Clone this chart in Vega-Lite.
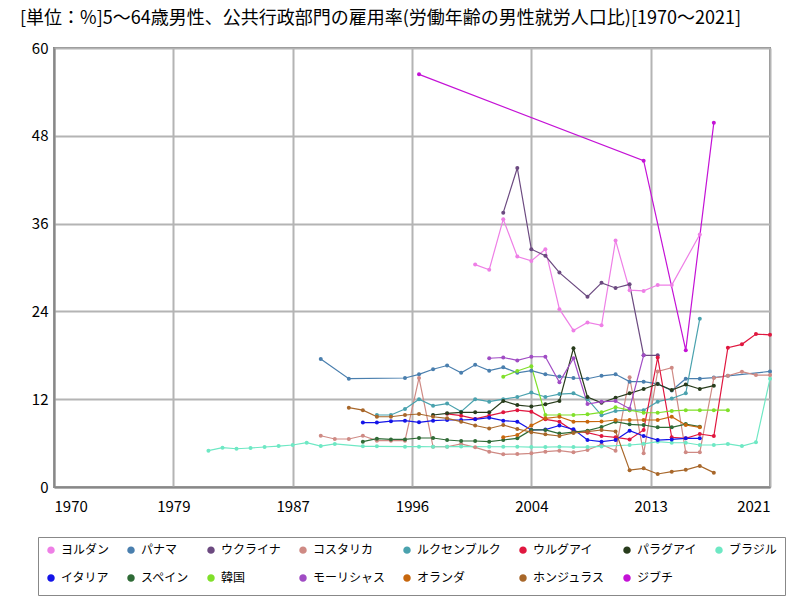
{
  "$schema": "https://vega.github.io/schema/vega-lite/v6.json",
  "width": 716,
  "height": 439,
  "autosize": {"type": "none"},
  "padding": {"left": 54, "top": 48, "right": 30, "bottom": 113},
  "title": {
    "text": "[単位：%]5～64歳男性、公共行政部門の雇用率(労働年齢の男性就労人口比)[1970～2021]",
    "anchor": "start",
    "frame": "group",
    "dx": -34,
    "offset": 13,
    "fontSize": 18,
    "fontWeight": "normal",
    "font": "Noto Sans CJK JP",
    "color": "#000000"
  },
  "data": {
    "values": [
      {"c": "ヨルダン", "y": 2000, "v": 30.4}, {"c": "ヨルダン", "y": 2001, "v": 29.7}, {"c": "ヨルダン", "y": 2002, "v": 36.6},
      {"c": "ヨルダン", "y": 2003, "v": 31.5}, {"c": "ヨルダン", "y": 2004, "v": 30.9}, {"c": "ヨルダン", "y": 2005, "v": 32.5},
      {"c": "ヨルダン", "y": 2006, "v": 24.3}, {"c": "ヨルダン", "y": 2007, "v": 21.4}, {"c": "ヨルダン", "y": 2008, "v": 22.5},
      {"c": "ヨルダン", "y": 2009, "v": 22.1}, {"c": "ヨルダン", "y": 2010, "v": 33.7}, {"c": "ヨルダン", "y": 2011, "v": 26.9},
      {"c": "ヨルダン", "y": 2012, "v": 26.8}, {"c": "ヨルダン", "y": 2013, "v": 27.6}, {"c": "ヨルダン", "y": 2014, "v": 27.6},
      {"c": "ヨルダン", "y": 2016, "v": 34.5},

      {"c": "パナマ", "y": 1989, "v": 17.5}, {"c": "パナマ", "y": 1991, "v": 14.8}, {"c": "パナマ", "y": 1995, "v": 14.9},
      {"c": "パナマ", "y": 1996, "v": 15.4}, {"c": "パナマ", "y": 1997, "v": 16.1}, {"c": "パナマ", "y": 1998, "v": 16.6},
      {"c": "パナマ", "y": 1999, "v": 15.6}, {"c": "パナマ", "y": 2000, "v": 16.7}, {"c": "パナマ", "y": 2001, "v": 15.9},
      {"c": "パナマ", "y": 2002, "v": 16.35}, {"c": "パナマ", "y": 2003, "v": 15.6}, {"c": "パナマ", "y": 2004, "v": 15.9},
      {"c": "パナマ", "y": 2005, "v": 15.4}, {"c": "パナマ", "y": 2006, "v": 15.1}, {"c": "パナマ", "y": 2007, "v": 14.9},
      {"c": "パナマ", "y": 2008, "v": 14.8}, {"c": "パナマ", "y": 2009, "v": 15.2}, {"c": "パナマ", "y": 2010, "v": 15.4},
      {"c": "パナマ", "y": 2011, "v": 14.4}, {"c": "パナマ", "y": 2012, "v": 14.4}, {"c": "パナマ", "y": 2013, "v": 14.1},
      {"c": "パナマ", "y": 2014, "v": 13.2}, {"c": "パナマ", "y": 2015, "v": 14.8}, {"c": "パナマ", "y": 2016, "v": 14.8},
      {"c": "パナマ", "y": 2017, "v": 14.95}, {"c": "パナマ", "y": 2018, "v": 15.2}, {"c": "パナマ", "y": 2021, "v": 15.8},

      {"c": "ウクライナ", "y": 2002, "v": 37.5}, {"c": "ウクライナ", "y": 2003, "v": 43.6}, {"c": "ウクライナ", "y": 2004, "v": 32.5},
      {"c": "ウクライナ", "y": 2005, "v": 31.6}, {"c": "ウクライナ", "y": 2006, "v": 29.3}, {"c": "ウクライナ", "y": 2008, "v": 26.0},
      {"c": "ウクライナ", "y": 2009, "v": 27.9}, {"c": "ウクライナ", "y": 2010, "v": 27.2}, {"c": "ウクライナ", "y": 2011, "v": 27.7},
      {"c": "ウクライナ", "y": 2012, "v": 18.0}, {"c": "ウクライナ", "y": 2013, "v": 18.0},

      {"c": "コスタリカ", "y": 1989, "v": 7.0}, {"c": "コスタリカ", "y": 1990, "v": 6.56}, {"c": "コスタリカ", "y": 1991, "v": 6.56},
      {"c": "コスタリカ", "y": 1992, "v": 7.0}, {"c": "コスタリカ", "y": 1993, "v": 6.33}, {"c": "コスタリカ", "y": 1994, "v": 6.33},
      {"c": "コスタリカ", "y": 1995, "v": 6.33}, {"c": "コスタリカ", "y": 1996, "v": 14.9}, {"c": "コスタリカ", "y": 1997, "v": 5.5},
      {"c": "コスタリカ", "y": 1998, "v": 5.5}, {"c": "コスタリカ", "y": 1999, "v": 5.88}, {"c": "コスタリカ", "y": 2000, "v": 5.42},
      {"c": "コスタリカ", "y": 2001, "v": 4.83}, {"c": "コスタリカ", "y": 2002, "v": 4.47}, {"c": "コスタリカ", "y": 2003, "v": 4.5},
      {"c": "コスタリカ", "y": 2004, "v": 4.6}, {"c": "コスタリカ", "y": 2005, "v": 4.83}, {"c": "コスタリカ", "y": 2006, "v": 4.96},
      {"c": "コスタリカ", "y": 2007, "v": 4.74}, {"c": "コスタリカ", "y": 2008, "v": 5.06}, {"c": "コスタリカ", "y": 2009, "v": 5.83},
      {"c": "コスタリカ", "y": 2010, "v": 4.96}, {"c": "コスタリカ", "y": 2011, "v": 15.0}, {"c": "コスタリカ", "y": 2012, "v": 4.6},
      {"c": "コスタリカ", "y": 2013, "v": 15.8}, {"c": "コスタリカ", "y": 2014, "v": 16.3}, {"c": "コスタリカ", "y": 2015, "v": 4.74},
      {"c": "コスタリカ", "y": 2016, "v": 4.74}, {"c": "コスタリカ", "y": 2017, "v": 14.9}, {"c": "コスタリカ", "y": 2018, "v": 15.2},
      {"c": "コスタリカ", "y": 2019, "v": 15.76}, {"c": "コスタリカ", "y": 2020, "v": 15.3}, {"c": "コスタリカ", "y": 2021, "v": 15.3},

      {"c": "ルクセンブルク", "y": 1993, "v": 9.84}, {"c": "ルクセンブルク", "y": 1994, "v": 9.84}, {"c": "ルクセンブルク", "y": 1995, "v": 10.66},
      {"c": "ルクセンブルク", "y": 1996, "v": 12.0}, {"c": "ルクセンブルク", "y": 1997, "v": 11.1}, {"c": "ルクセンブルク", "y": 1998, "v": 11.4},
      {"c": "ルクセンブルク", "y": 1999, "v": 10.3}, {"c": "ルクセンブルク", "y": 2000, "v": 12.0}, {"c": "ルクセンブルク", "y": 2001, "v": 11.66},
      {"c": "ルクセンブルク", "y": 2002, "v": 12.0}, {"c": "ルクセンブルク", "y": 2003, "v": 12.3}, {"c": "ルクセンブルク", "y": 2004, "v": 12.9},
      {"c": "ルクセンブルク", "y": 2005, "v": 12.3}, {"c": "ルクセンブルク", "y": 2006, "v": 12.7}, {"c": "ルクセンブルク", "y": 2007, "v": 12.8},
      {"c": "ルクセンブルク", "y": 2008, "v": 12.0}, {"c": "ルクセンブルク", "y": 2009, "v": 9.8}, {"c": "ルクセンブルク", "y": 2010, "v": 10.4},
      {"c": "ルクセンブルク", "y": 2011, "v": 10.5}, {"c": "ルクセンブルク", "y": 2012, "v": 10.5}, {"c": "ルクセンブルク", "y": 2013, "v": 11.66},
      {"c": "ルクセンブルク", "y": 2014, "v": 12.1}, {"c": "ルクセンブルク", "y": 2015, "v": 12.8}, {"c": "ルクセンブルク", "y": 2016, "v": 23.0},

      {"c": "ウルグアイ", "y": 1998, "v": 10.0}, {"c": "ウルグアイ", "y": 1999, "v": 9.75}, {"c": "ウルグアイ", "y": 2000, "v": 9.3},
      {"c": "ウルグアイ", "y": 2001, "v": 9.75}, {"c": "ウルグアイ", "y": 2002, "v": 10.2}, {"c": "ウルグアイ", "y": 2003, "v": 10.5},
      {"c": "ウルグアイ", "y": 2004, "v": 10.3}, {"c": "ウルグアイ", "y": 2005, "v": 9.25}, {"c": "ウルグアイ", "y": 2006, "v": 8.93},
      {"c": "ウルグアイ", "y": 2007, "v": 7.65}, {"c": "ウルグアイ", "y": 2008, "v": 7.42}, {"c": "ウルグアイ", "y": 2009, "v": 6.97},
      {"c": "ウルグアイ", "y": 2010, "v": 6.79}, {"c": "ウルグアイ", "y": 2011, "v": 6.5}, {"c": "ウルグアイ", "y": 2012, "v": 7.8},
      {"c": "ウルグアイ", "y": 2013, "v": 17.7}, {"c": "ウルグアイ", "y": 2014, "v": 6.8}, {"c": "ウルグアイ", "y": 2015, "v": 6.65},
      {"c": "ウルグアイ", "y": 2016, "v": 7.24}, {"c": "ウルグアイ", "y": 2017, "v": 6.97}, {"c": "ウルグアイ", "y": 2018, "v": 19.04},
      {"c": "ウルグアイ", "y": 2019, "v": 19.5}, {"c": "ウルグアイ", "y": 2020, "v": 20.9}, {"c": "ウルグアイ", "y": 2021, "v": 20.8},

      {"c": "パラグアイ", "y": 1997, "v": 9.84}, {"c": "パラグアイ", "y": 1998, "v": 10.07}, {"c": "パラグアイ", "y": 1999, "v": 10.2},
      {"c": "パラグアイ", "y": 2000, "v": 10.2}, {"c": "パラグアイ", "y": 2001, "v": 10.2}, {"c": "パラグアイ", "y": 2002, "v": 11.75},
      {"c": "パラグアイ", "y": 2003, "v": 11.2}, {"c": "パラグアイ", "y": 2004, "v": 11.0}, {"c": "パラグアイ", "y": 2005, "v": 11.3},
      {"c": "パラグアイ", "y": 2006, "v": 11.75}, {"c": "パラグアイ", "y": 2007, "v": 18.95}, {"c": "パラグアイ", "y": 2008, "v": 12.3},
      {"c": "パラグアイ", "y": 2009, "v": 11.5}, {"c": "パラグアイ", "y": 2010, "v": 12.2}, {"c": "パラグアイ", "y": 2011, "v": 12.8},
      {"c": "パラグアイ", "y": 2012, "v": 13.4}, {"c": "パラグアイ", "y": 2013, "v": 14.07}, {"c": "パラグアイ", "y": 2014, "v": 13.26},
      {"c": "パラグアイ", "y": 2015, "v": 14.0}, {"c": "パラグアイ", "y": 2016, "v": 13.4}, {"c": "パラグアイ", "y": 2017, "v": 13.85},

      {"c": "ブラジル", "y": 1981, "v": 4.96}, {"c": "ブラジル", "y": 1982, "v": 5.37}, {"c": "ブラジル", "y": 1983, "v": 5.23},
      {"c": "ブラジル", "y": 1984, "v": 5.33}, {"c": "ブラジル", "y": 1985, "v": 5.47}, {"c": "ブラジル", "y": 1986, "v": 5.6},
      {"c": "ブラジル", "y": 1987, "v": 5.74}, {"c": "ブラジル", "y": 1988, "v": 6.05}, {"c": "ブラジル", "y": 1989, "v": 5.6},
      {"c": "ブラジル", "y": 1990, "v": 5.88}, {"c": "ブラジル", "y": 1992, "v": 5.56}, {"c": "ブラジル", "y": 1993, "v": 5.56},
      {"c": "ブラジル", "y": 1995, "v": 5.51}, {"c": "ブラジル", "y": 1996, "v": 5.51}, {"c": "ブラジル", "y": 1997, "v": 5.5},
      {"c": "ブラジル", "y": 1998, "v": 5.5}, {"c": "ブラジル", "y": 1999, "v": 5.55}, {"c": "ブラジル", "y": 2001, "v": 5.5},
      {"c": "ブラジル", "y": 2002, "v": 5.5}, {"c": "ブラジル", "y": 2003, "v": 5.5}, {"c": "ブラジル", "y": 2004, "v": 5.45},
      {"c": "ブラジル", "y": 2005, "v": 5.45}, {"c": "ブラジル", "y": 2006, "v": 5.5}, {"c": "ブラジル", "y": 2007, "v": 5.45},
      {"c": "ブラジル", "y": 2008, "v": 5.45}, {"c": "ブラジル", "y": 2009, "v": 5.55}, {"c": "ブラジル", "y": 2011, "v": 5.74},
      {"c": "ブラジル", "y": 2012, "v": 5.9}, {"c": "ブラジル", "y": 2013, "v": 6.2}, {"c": "ブラジル", "y": 2014, "v": 6.05},
      {"c": "ブラジル", "y": 2015, "v": 6.05}, {"c": "ブラジル", "y": 2016, "v": 5.74}, {"c": "ブラジル", "y": 2017, "v": 5.74},
      {"c": "ブラジル", "y": 2018, "v": 5.88}, {"c": "ブラジル", "y": 2019, "v": 5.6}, {"c": "ブラジル", "y": 2020, "v": 6.1},
      {"c": "ブラジル", "y": 2021, "v": 14.8},

      {"c": "イタリア", "y": 1992, "v": 8.8}, {"c": "イタリア", "y": 1993, "v": 8.8}, {"c": "イタリア", "y": 1994, "v": 9.0},
      {"c": "イタリア", "y": 1995, "v": 9.07}, {"c": "イタリア", "y": 1996, "v": 8.84}, {"c": "イタリア", "y": 1997, "v": 9.07},
      {"c": "イタリア", "y": 1998, "v": 9.16}, {"c": "イタリア", "y": 1999, "v": 9.16}, {"c": "イタリア", "y": 2000, "v": 9.25},
      {"c": "イタリア", "y": 2001, "v": 9.47}, {"c": "イタリア", "y": 2002, "v": 9.07}, {"c": "イタリア", "y": 2003, "v": 8.93},
      {"c": "イタリア", "y": 2004, "v": 7.79}, {"c": "イタリア", "y": 2005, "v": 7.85}, {"c": "イタリア", "y": 2006, "v": 8.4},
      {"c": "イタリア", "y": 2007, "v": 7.88}, {"c": "イタリア", "y": 2008, "v": 6.42}, {"c": "イタリア", "y": 2009, "v": 6.2},
      {"c": "イタリア", "y": 2010, "v": 6.42}, {"c": "イタリア", "y": 2011, "v": 7.7}, {"c": "イタリア", "y": 2012, "v": 6.97},
      {"c": "イタリア", "y": 2013, "v": 6.42}, {"c": "イタリア", "y": 2014, "v": 6.5}, {"c": "イタリア", "y": 2015, "v": 6.65},
      {"c": "イタリア", "y": 2016, "v": 6.65},

      {"c": "スペイン", "y": 1992, "v": 6.2}, {"c": "スペイン", "y": 1993, "v": 6.6}, {"c": "スペイン", "y": 1994, "v": 6.5},
      {"c": "スペイン", "y": 1995, "v": 6.5}, {"c": "スペイン", "y": 1996, "v": 6.7}, {"c": "スペイン", "y": 1997, "v": 6.7},
      {"c": "スペイン", "y": 1998, "v": 6.42}, {"c": "スペイン", "y": 1999, "v": 6.29}, {"c": "スペイン", "y": 2000, "v": 6.29},
      {"c": "スペイン", "y": 2001, "v": 6.2}, {"c": "スペイン", "y": 2002, "v": 6.42}, {"c": "スペイン", "y": 2003, "v": 6.65},
      {"c": "スペイン", "y": 2004, "v": 7.8}, {"c": "スペイン", "y": 2005, "v": 7.8}, {"c": "スペイン", "y": 2006, "v": 7.3},
      {"c": "スペイン", "y": 2007, "v": 7.5}, {"c": "スペイン", "y": 2008, "v": 7.7}, {"c": "スペイン", "y": 2009, "v": 8.2},
      {"c": "スペイン", "y": 2010, "v": 8.93}, {"c": "スペイン", "y": 2011, "v": 8.57}, {"c": "スペイン", "y": 2012, "v": 8.47},
      {"c": "スペイン", "y": 2013, "v": 8.16}, {"c": "スペイン", "y": 2014, "v": 8.16}, {"c": "スペイン", "y": 2015, "v": 8.6},
      {"c": "スペイン", "y": 2016, "v": 8.24},

      {"c": "韓国", "y": 2002, "v": 15.08}, {"c": "韓国", "y": 2003, "v": 15.85}, {"c": "韓国", "y": 2004, "v": 16.5},
      {"c": "韓国", "y": 2005, "v": 9.84}, {"c": "韓国", "y": 2006, "v": 9.84}, {"c": "韓国", "y": 2007, "v": 9.84},
      {"c": "韓国", "y": 2008, "v": 9.93}, {"c": "韓国", "y": 2009, "v": 10.2}, {"c": "韓国", "y": 2010, "v": 10.9},
      {"c": "韓国", "y": 2011, "v": 10.5}, {"c": "韓国", "y": 2012, "v": 10.15}, {"c": "韓国", "y": 2013, "v": 10.15},
      {"c": "韓国", "y": 2014, "v": 10.4}, {"c": "韓国", "y": 2015, "v": 10.5}, {"c": "韓国", "y": 2016, "v": 10.5},
      {"c": "韓国", "y": 2017, "v": 10.5}, {"c": "韓国", "y": 2018, "v": 10.5},

      {"c": "モーリシャス", "y": 2001, "v": 17.6}, {"c": "モーリシャス", "y": 2002, "v": 17.7}, {"c": "モーリシャス", "y": 2003, "v": 17.3},
      {"c": "モーリシャス", "y": 2004, "v": 17.8}, {"c": "モーリシャス", "y": 2005, "v": 17.8}, {"c": "モーリシャス", "y": 2006, "v": 14.3},
      {"c": "モーリシャス", "y": 2007, "v": 17.6}, {"c": "モーリシャス", "y": 2008, "v": 11.34}, {"c": "モーリシャス", "y": 2009, "v": 11.66},
      {"c": "モーリシャス", "y": 2010, "v": 11.75}, {"c": "モーリシャス", "y": 2011, "v": 10.7}, {"c": "モーリシャス", "y": 2012, "v": 18.0},

      {"c": "オランダ", "y": 2002, "v": 6.8}, {"c": "オランダ", "y": 2003, "v": 7.1}, {"c": "オランダ", "y": 2004, "v": 8.4},
      {"c": "オランダ", "y": 2005, "v": 9.38}, {"c": "オランダ", "y": 2006, "v": 9.6}, {"c": "オランダ", "y": 2007, "v": 8.93},
      {"c": "オランダ", "y": 2008, "v": 8.93}, {"c": "オランダ", "y": 2009, "v": 8.95}, {"c": "オランダ", "y": 2010, "v": 9.16},
      {"c": "オランダ", "y": 2011, "v": 9.16}, {"c": "オランダ", "y": 2012, "v": 9.16}, {"c": "オランダ", "y": 2013, "v": 9.16},
      {"c": "オランダ", "y": 2014, "v": 9.6}, {"c": "オランダ", "y": 2015, "v": 8.47}, {"c": "オランダ", "y": 2016, "v": 8.16},

      {"c": "ホンジュラス", "y": 1991, "v": 10.84}, {"c": "ホンジュラス", "y": 1992, "v": 10.5}, {"c": "ホンジュラス", "y": 1993, "v": 9.6},
      {"c": "ホンジュラス", "y": 1994, "v": 9.6}, {"c": "ホンジュラス", "y": 1995, "v": 9.84}, {"c": "ホンジュラス", "y": 1996, "v": 9.98},
      {"c": "ホンジュラス", "y": 1997, "v": 9.6}, {"c": "ホンジュラス", "y": 1998, "v": 9.38}, {"c": "ホンジュラス", "y": 1999, "v": 8.93},
      {"c": "ホンジュラス", "y": 2000, "v": 8.4}, {"c": "ホンジュラス", "y": 2001, "v": 8.0}, {"c": "ホンジュラス", "y": 2002, "v": 8.47},
      {"c": "ホンジュラス", "y": 2003, "v": 7.93}, {"c": "ホンジュラス", "y": 2004, "v": 7.5}, {"c": "ホンジュラス", "y": 2005, "v": 7.2},
      {"c": "ホンジュラス", "y": 2006, "v": 6.97}, {"c": "ホンジュラス", "y": 2007, "v": 7.38}, {"c": "ホンジュラス", "y": 2008, "v": 7.56},
      {"c": "ホンジュラス", "y": 2009, "v": 7.79}, {"c": "ホンジュラス", "y": 2010, "v": 7.6}, {"c": "ホンジュラス", "y": 2011, "v": 2.3},
      {"c": "ホンジュラス", "y": 2012, "v": 2.55}, {"c": "ホンジュラス", "y": 2013, "v": 1.78}, {"c": "ホンジュラス", "y": 2014, "v": 2.1},
      {"c": "ホンジュラス", "y": 2015, "v": 2.35}, {"c": "ホンジュラス", "y": 2016, "v": 2.87}, {"c": "ホンジュラス", "y": 2017, "v": 1.96},

      {"c": "ジブチ", "y": 1996, "v": 56.4}, {"c": "ジブチ", "y": 2012, "v": 44.6}, {"c": "ジブチ", "y": 2015, "v": 18.7},
      {"c": "ジブチ", "y": 2017, "v": 49.8}
    ]
  },
  "encoding": {
    "x": {
      "field": "y",
      "type": "quantitative",
      "scale": {"domain": [1970, 2021], "nice": false, "zero": false},
      "axis": {
        "title": null,
        "values": [1970, 1978.5, 1987, 1995.5, 2004, 2012.5, 2021],
        "format": "d",
        "grid": true,
        "ticks": false,
        "labelPadding": 12
      }
    },
    "y": {
      "field": "v",
      "type": "quantitative",
      "scale": {"domain": [0, 60], "nice": false},
      "axis": {
        "title": null,
        "values": [0, 12, 24, 36, 48, 60],
        "grid": true,
        "ticks": false,
        "labelPadding": 6
      }
    },
    "color": {
      "field": "c",
      "type": "nominal",
      "scale": {
        "domain": ["ヨルダン", "パナマ", "ウクライナ", "コスタリカ", "ルクセンブルク", "ウルグアイ", "パラグアイ", "ブラジル", "イタリア", "スペイン", "韓国", "モーリシャス", "オランダ", "ホンジュラス", "ジブチ"],
        "range": ["#ee7fe6", "#4a7fae", "#6c4a80", "#cf8a84", "#4aa2ae", "#e0173f", "#283c1c", "#6ee8c4", "#1414e8", "#2f6b36", "#80e02a", "#a04cc4", "#c7670e", "#a8672a", "#c412d6"]
      },
      "legend": {
        "title": null,
        "orient": "none",
        "legendX": -16,
        "legendY": 489,
        "direction": "horizontal",
        "columns": 8,
        "symbolType": "circle",
        "symbolSize": 12,
        "symbolStrokeWidth": 4,
        "labelFontSize": 12,
        "labelFont": "Noto Sans CJK JP",
        "labelColor": "#000000",
        "labelOffset": 4,
        "columnPadding": 11,
        "rowPadding": 8,
        "padding": 7,
        "strokeColor": "#888888"
      }
    }
  },
  "layer": [
    {
      "mark": {"type": "line", "strokeWidth": 1.2}
    },
    {
      "mark": {"type": "point", "filled": true, "size": 16, "opacity": 1}
    }
  ],
  "config": {
    "view": {"stroke": "#888888", "strokeWidth": 2},
    "axis": {
      "labelFont": "Noto Sans CJK JP",
      "labelFontSize": 15,
      "labelColor": "#000000",
      "gridColor": "#b4b4b4",
      "gridWidth": 2,
      "domainColor": "#888888",
      "domainWidth": 2
    }
  }
}
